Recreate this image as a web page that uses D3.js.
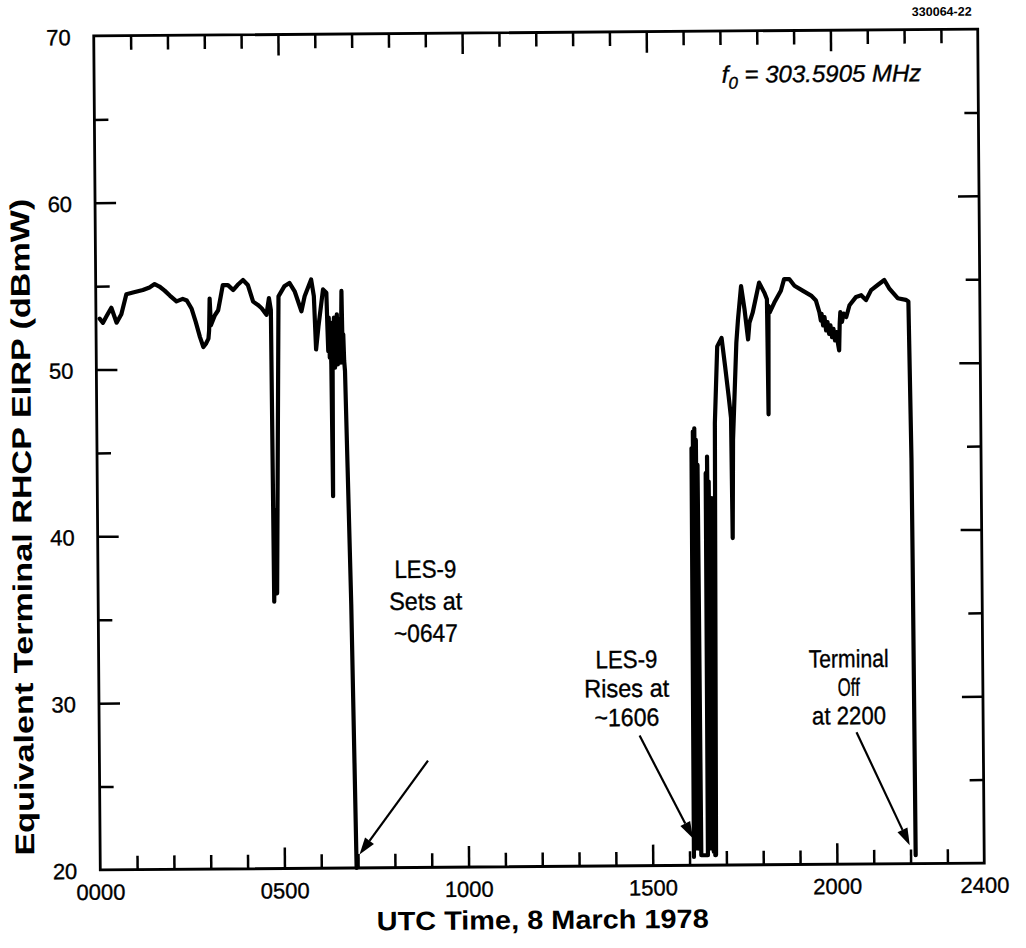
<!DOCTYPE html>
<html>
<head>
<meta charset="utf-8">
<script src="https://cdn.jsdelivr.net/npm/d3@7"></script>
<style>
  html, body { margin: 0; padding: 0; background: #fff; }
  svg { display: block; }
  text { font-family: "Liberation Sans", Arial, Helvetica, sans-serif; fill: #000; }
  text.reg { stroke: #000; stroke-width: 0.35px; }
</style>
</head>
<body>
<svg id="chart" width="1026" height="948"></svg>
<script>
// Equivalent terminal RHCP EIRP (dBmW) received from LES-9, 8 March 1978.
// Time is in decimal hours UTC.

// Morning pass, until the satellite sets
const morningHours = [
  0.10, 0.19, 0.29, 0.42, 0.56, 0.69, 0.83, 1.01, 1.28, 1.46,
  1.60, 1.73, 1.87, 2.01, 2.19, 2.36, 2.47, 2.60, 2.71, 2.82,
  2.91, 2.98, 3.05, 3.07, 3.09, 3.12, 3.23, 3.32, 3.39, 3.45,
  3.59, 3.73, 3.85, 4.00, 4.13, 4.27, 4.40, 4.50, 4.63, 4.70,
  4.75, 4.78, 4.82, 4.86, 4.96, 5.12, 5.26, 5.40, 5.58, 5.67,
  5.85, 5.92, 5.97, 6.04, 6.17, 6.26, 6.28, 6.30, 6.32, 6.34,
  6.36, 6.38, 6.40, 6.42, 6.44, 6.46, 6.48, 6.50, 6.52, 6.54,
  6.56, 6.58, 6.60, 6.62, 6.64, 6.67, 6.69, 6.71, 6.73, 6.75,
  6.80, 6.87, 6.96
];
const morningEirp = [
  53.05, 52.8, 53.2, 53.7, 52.8, 53.3, 54.5, 54.6, 54.75, 54.9,
  55.1, 54.95, 54.7, 54.4, 54.05, 54.2, 54.1, 53.6, 52.8, 51.9,
  51.3, 51.5, 51.8, 52.3, 54.2, 52.6, 53.2, 53.5, 54.3, 55.0,
  55.0, 54.7, 55.0, 55.3, 55.0, 54.0, 53.8, 53.6, 53.2, 54.2,
  53.5, 36.0, 41.5, 36.5, 54.3, 54.9, 55.1, 54.6, 53.4, 54.3,
  55.3, 54.3, 51.1, 52.5, 54.7, 54.5, 52.6, 51.0, 53.0, 50.6,
  52.5, 50.2, 42.3, 52.7, 50.4, 53.0, 50.0, 52.8, 50.5, 53.2,
  50.2, 52.9, 50.6, 52.5, 50.3, 54.6, 50.8, 52.0, 50.4, 49.8,
  44.0, 35.8, 20.0
];

// Afternoon pass, from rise until the terminal is switched off
const eveningHours = [
  16.12, 16.14, 16.16, 16.18, 16.20, 16.22, 16.24, 16.26, 16.28, 16.30,
  16.32, 16.50, 16.52, 16.54, 16.56, 16.58, 16.60, 16.62, 16.64, 16.66,
  16.68, 16.70, 16.72, 16.78, 16.86, 16.98, 17.07, 17.16, 17.22, 17.24,
  17.27, 17.38, 17.43, 17.52, 17.61, 17.70, 17.74, 17.83, 17.93, 18.01,
  18.15, 18.22, 18.24, 18.26, 18.29, 18.42, 18.60, 18.69, 18.83, 18.97,
  19.19, 19.42, 19.55, 19.64, 19.68, 19.70, 19.74, 19.78, 19.82, 19.86,
  19.90, 19.94, 19.98, 20.02, 20.06, 20.10, 20.14, 20.17, 20.19, 20.21,
  20.25, 20.30, 20.37, 20.46, 20.64, 20.78, 20.91, 21.05, 21.23, 21.41,
  21.54, 21.77, 21.99, 22.06, 22.11, 22.12, 22.14
];
const eveningEirp = [
  20.5, 45.0, 21.0, 46.0, 22.0, 46.2, 21.0, 45.5, 23.0, 44.0,
  20.6, 20.6, 43.5, 21.0, 44.5, 22.0, 43.0, 21.0, 41.0, 20.8,
  42.0, 20.6, 20.6, 46.5, 51.1, 51.6, 49.9, 48.1, 46.8, 39.6,
  45.5, 51.3, 52.7, 54.7, 53.3, 51.5, 52.5, 53.1, 54.1, 54.9,
  54.3, 53.9, 47.0, 53.5, 53.1, 53.7, 54.4, 55.1, 55.1, 54.7,
  54.4, 54.1, 53.8, 53.1, 52.6, 53.0, 52.3, 52.8, 52.0, 52.5,
  51.8, 52.3, 51.6, 52.1, 51.4, 51.9, 51.2, 50.8, 52.4, 53.1,
  52.5, 53.0, 52.8, 53.5, 54.0, 54.1, 53.8, 54.4, 54.7, 55.0,
  54.5, 53.9, 53.8, 53.7, 44.3, 38.3, 20.5
];

// Axis ticks and labels
const xLabelHours = [0, 5, 10, 15, 20, 24];
const xLabelTexts = ["0000", "0500", "1000", "1500", "2000", "2400"];
const xMajorHours = [5, 10, 15, 20];
const xMinorHours = [1, 2, 3, 4, 6, 7, 8, 9, 11, 12, 13, 14, 16, 17, 18, 19, 21, 22, 23];
const yLabelValues = [20, 30, 40, 50, 60, 70];
const yMajorValues = [30, 40, 50, 60];
const yMinorValues = [25, 35, 45, 55, 65];

// Event annotations: label lines, label anchor, arrow tail and tip (hours, dBmW)
const eventLabels = [
  { lines: ["LES-9", "Sets at", "~0647"], lens: [62, 73, 64], at: [8.89, 37.36], lead: 32.0,
    tail: [8.92, 26.4], tip: [7.04, 20.8] },
  { lines: ["LES-9", "Rises at", "~1606"], lens: [62, 85, 65], at: [14.33, 31.86], lead: 29.0,
    tail: [14.67, 27.8], tip: [16.10, 21.6] },
  { lines: ["Terminal", "Off", "at 2200"], lens: [80, 22, 74], at: [20.36, 31.8], lead: 28.5,
    tail: [20.56, 27.9], tip: [21.98, 21.1] }
];
const freqLabel = { at: [17.04, 66.9], text: " = 303.5905 MHz" };

const svg = d3.select("#chart");
const plotW = 884, plotH = 834;
const plotLeft = 97, plotTop = 32.5;

// the whole sheet sits at a slight tilt
const sheet = svg.append("g")
  .attr("transform", `rotate(-0.45, ${plotLeft + plotW / 2}, ${plotTop + plotH / 2})`);

const plot = sheet.append("g").attr("transform", `translate(${plotLeft},${plotTop})`);

const x = d3.scaleLinear().domain([0, 24]).range([0, plotW]);
const y = d3.scaleLinear().domain([20, 70]).range([plotH, 0]);

function tickAxis(gen, values, size, tx, ty) {
  const g = plot.append("g")
    .attr("transform", `translate(${tx},${ty})`)
    .call(gen.tickValues(values).tickSize(size).tickFormat(""));
  g.select(".domain").remove();
  g.selectAll(".tick line").attr("stroke", "#000").attr("stroke-width", 2.5);
  return g;
}

// inward ticks on all four sides
const MAJ = 21, MIN = 14;
tickAxis(d3.axisBottom(x), xMajorHours, -MAJ, 0, plotH);
tickAxis(d3.axisBottom(x), xMinorHours, -MIN, 0, plotH);
tickAxis(d3.axisTop(x), xMajorHours, -MAJ, 0, 0);
tickAxis(d3.axisTop(x), xMinorHours, -MIN, 0, 0);
tickAxis(d3.axisLeft(y), yMajorValues, -MAJ, 0, 0);
tickAxis(d3.axisLeft(y), yMinorValues, -MIN, 0, 0);
tickAxis(d3.axisRight(y), yMajorValues, -MAJ, plotW, 0);
tickAxis(d3.axisRight(y), yMinorValues, -MIN, plotW, 0);

// frame
plot.append("rect")
  .attr("x", 0).attr("y", 0).attr("width", plotW).attr("height", plotH)
  .attr("fill", "none").attr("stroke", "#000").attr("stroke-width", 2.8);

// tick labels
const xl = plot.append("g")
  .attr("transform", `translate(0,${plotH})`)
  .call(d3.axisBottom(x).tickValues(xLabelHours).tickSize(0).tickPadding(10)
    .tickFormat((d, i) => xLabelTexts[i]));
xl.select(".domain").remove();
xl.selectAll("text").attr("class", "reg").attr("font-size", 22).attr("font-family", null)
  .attr("dy", "0.9em");

const yl = plot.append("g")
  .call(d3.axisLeft(y).tickValues(yLabelValues).tickSize(0).tickPadding(23));
yl.select(".domain").remove();
yl.selectAll("text").attr("class", "reg").attr("font-size", 22).attr("font-family", null)
  .attr("dy", "0.38em");

// EIRP trace
const trace = d3.line()
  .x(d => x(d[0]))
  .y(d => y(d[1]));

const passes = [
  d3.zip(morningHours, morningEirp),
  d3.zip(eveningHours, eveningEirp)
];
plot.selectAll("path.trace")
  .data(passes)
  .join("path")
  .attr("class", "trace")
  .attr("d", trace)
  .attr("fill", "none")
  .attr("stroke", "#000")
  .attr("stroke-width", 4.2)
  .attr("stroke-linejoin", "round")
  .attr("stroke-linecap", "round");

// event labels with arrows
eventLabels.forEach(ev => {
  const t = plot.append("text")
    .attr("class", "reg")
    .attr("x", x(ev.at[0]))
    .attr("y", y(ev.at[1]))
    .attr("text-anchor", "middle")
    .attr("font-size", 25);
  ev.lines.forEach((ln, i) => {
    t.append("tspan")
      .attr("x", x(ev.at[0]))
      .attr("dy", i === 0 ? 0 : ev.lead)
      .attr("textLength", ev.lens[i])
      .attr("lengthAdjust", "spacingAndGlyphs")
      .text(ln);
  });

  const x0 = x(ev.tail[0]), y0 = y(ev.tail[1]);
  const x1 = x(ev.tip[0]), y1 = y(ev.tip[1]);
  const ang = Math.atan2(y1 - y0, x1 - x0);
  const headLen = 17, headHalf = 5.5;
  const bx = x1 - headLen * Math.cos(ang), by = y1 - headLen * Math.sin(ang);
  plot.append("line")
    .attr("x1", x0).attr("y1", y0).attr("x2", bx).attr("y2", by)
    .attr("stroke", "#000").attr("stroke-width", 2.2);
  const px = -Math.sin(ang) * headHalf, py = Math.cos(ang) * headHalf;
  plot.append("path")
    .attr("d", `M${x1},${y1}L${bx + px},${by + py}L${bx - px},${by - py}Z`)
    .attr("fill", "#000");
});

// carrier frequency
const ft = plot.append("text")
  .attr("class", "reg")
  .attr("x", x(freqLabel.at[0]))
  .attr("y", y(freqLabel.at[1]))
  .attr("font-size", 24)
  .attr("font-style", "italic");
ft.append("tspan").text("f");
ft.append("tspan").attr("font-size", 17).attr("dy", 6).text("0");
ft.append("tspan").attr("dy", -6).text(freqLabel.text);

// figure number
sheet.append("text")
  .attr("x", 975).attr("y", 19)
  .attr("text-anchor", "end")
  .attr("font-size", 12.5)
  .attr("font-weight", "bold")
  .text("330064-22");

// axis titles
sheet.append("text")
  .attr("x", 539).attr("y", 929)
  .attr("text-anchor", "middle")
  .attr("font-size", 26.5)
  .attr("font-weight", "bold")
  .attr("textLength", 332)
  .attr("lengthAdjust", "spacingAndGlyphs")
  .text("UTC Time, 8 March 1978");

sheet.append("text")
  .attr("transform", "translate(31,523) rotate(-90)")
  .attr("text-anchor", "middle")
  .attr("font-size", 27)
  .attr("font-weight", "bold")
  .attr("textLength", 657)
  .attr("lengthAdjust", "spacingAndGlyphs")
  .text("Equivalent Terminal RHCP EIRP (dBmW)");
</script>
</body>
</html>
